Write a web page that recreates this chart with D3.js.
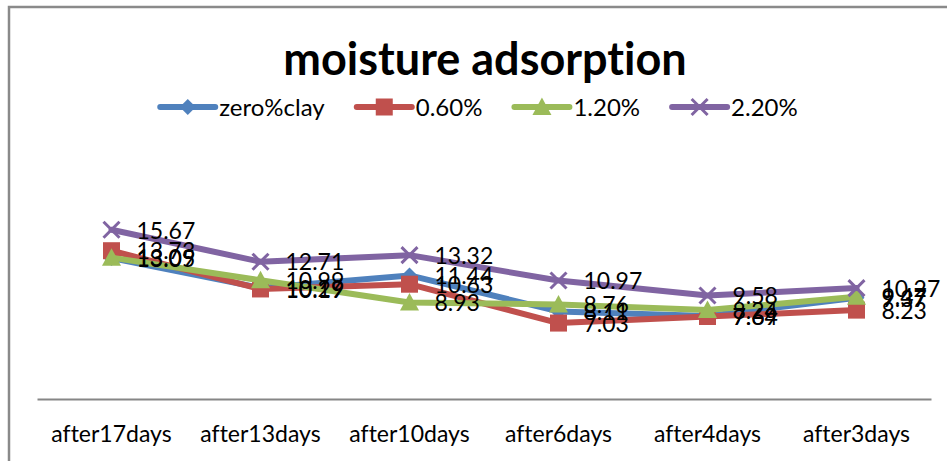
<!DOCTYPE html>
<html>
<head>
<meta charset="utf-8">
<script src="https://cdn.jsdelivr.net/npm/d3@7"></script>
<style>
  html, body { margin: 0; padding: 0; background: #fff; }
  svg text { font-family: Lato, "Open Sans", sans-serif; font-variant-ligatures: none; }
</style>
</head>
<body>
<div id="my_dataviz"></div>
<script>
// values
const categories = ["after17days", "after13days", "after10days", "after6days", "after4days", "after3days"];
const seriesNames = ["zero%clay", "0.60%", "1.20%", "2.20%"];
const zeroClay = [13.05, 10.29, 11.44, 8.11, 7.69, 9.37];
const clay060 = [13.73, 10.19, 10.63, 7.03, 7.64, 8.23];
const clay120 = [13.09, 10.99, 8.93, 8.76, 8.24, 9.47];
const clay220 = [15.67, 12.71, 13.32, 10.97, 9.58, 10.27];
const yDomain = [0, 25];

const colors = ["#4F81BD", "#C0504D", "#9BBB59", "#8064A2"];
const shapes = ["diamond", "square", "triangle", "cross"];

const series = [zeroClay, clay060, clay120, clay220].map((vals, i) => ({
  name: seriesNames[i], color: colors[i], shape: shapes[i],
  values: vals.map((v, j) => ({ cat: categories[j], v: v }))
}));

const W = 947, H = 461;
const margin = { top: 129, right: 16, bottom: 62, left: 37 };
const width = W - margin.left - margin.right,
      height = H - margin.top - margin.bottom;

const root = d3.select("#my_dataviz")
  .append("svg")
  .attr("width", W)
  .attr("height", H);

// chart area frame (cut off on right and bottom)
root.append("path")
  .attr("d", `M9,${H + 5} L9,7 L${W + 5},7`)
  .attr("fill", "none")
  .attr("stroke", "#8a8a8a")
  .attr("stroke-width", 2.5);

// title
root.append("text")
  .attr("x", 485)
  .attr("y", 75)
  .attr("text-anchor", "middle")
  .style("font-size", "45px")
  .style("font-weight", "bold")
  .attr("fill", "#000")
  .text("moisture adsorption");

const svg = root.append("g")
  .attr("transform", `translate(${margin.left},${margin.top})`);

const x = d3.scaleBand()
  .domain(categories)
  .range([0, width]);

const y = d3.scaleLinear()
  .domain(yDomain)
  .range([height, 0]);

// X axis
const xAxis = svg.append("g")
  .attr("transform", `translate(0,${height})`)
  .call(d3.axisBottom(x).tickSize(0).tickPadding(27));
xAxis.select(".domain").attr("stroke", "#868686").attr("stroke-width", 2);
xAxis.selectAll("text")
  .style("font-size", "23px")
  .style("font-family", "Lato, sans-serif")
  .attr("fill", "#000");

const cx = d => x(d.cat) + x.bandwidth() / 2;

function marker(g, shape, color) {
  if (shape === "diamond") {
    g.append("path").attr("d", "M0,-8 L8,0 L0,8 L-8,0 Z").attr("fill", color);
  } else if (shape === "square") {
    g.append("rect").attr("x", -8.5).attr("y", -8.5).attr("width", 17).attr("height", 17).attr("fill", color);
  } else if (shape === "triangle") {
    g.append("path").attr("d", "M0,-9.5 L9.5,8 L-9.5,8 Z").attr("fill", color);
  } else {
    g.append("path").attr("d", "M-8,-8 L8,8 M-8,8 L8,-8")
      .attr("stroke", color).attr("stroke-width", 3).attr("fill", "none");
  }
}

const line = d3.line().x(cx).y(d => y(d.v));

series.forEach(s => {
  svg.append("path")
    .datum(s.values)
    .attr("d", line)
    .attr("fill", "none")
    .attr("stroke", s.color)
    .attr("stroke-width", 6)
    .attr("stroke-linejoin", "round")
    .attr("stroke-linecap", "round");

  svg.selectAll(null)
    .data(s.values)
    .join("g")
    .attr("transform", d => `translate(${cx(d)},${y(d.v)})`)
    .each(function () { marker(d3.select(this), s.shape, s.color); });
});

// data labels on top
series.forEach(s => {
  svg.selectAll(null)
    .data(s.values)
    .join("text")
    .attr("x", d => cx(d) + 25)
    .attr("y", d => y(d.v))
    .attr("dy", "0.38em")
    .style("font-size", "23px")
    .attr("fill", "#000")
    .text(d => d.v.toFixed(2));
});

// legend: sample line + text, laid out in a row and centred
const sampleLen = 55, gap = 32;
const legend = root.append("g").attr("transform", "translate(0,107)");
const items = legend.selectAll("g")
  .data(series)
  .join("g");
items.append("line")
  .attr("x1", 0).attr("x2", sampleLen)
  .attr("stroke", d => d.color)
  .attr("stroke-width", 6)
  .attr("stroke-linecap", "round");
items.append("g")
  .attr("transform", `translate(${sampleLen / 2},0)`)
  .each(function (d) { marker(d3.select(this), d.shape, d.color); });
items.append("text")
  .attr("x", sampleLen + 4)
  .attr("dy", "0.36em")
  .style("font-size", "24px")
  .attr("fill", "#000")
  .text(d => d.name);

const offs = [];
let cur = 0;
items.each(function () {
  offs.push(cur);
  cur += sampleLen + 4 + d3.select(this).select("text").node().getComputedTextLength() + gap;
});
const start = 479 - (cur - gap) / 2;
items.attr("transform", (d, i) => `translate(${start + offs[i]},0)`);
</script>
</body>
</html>
